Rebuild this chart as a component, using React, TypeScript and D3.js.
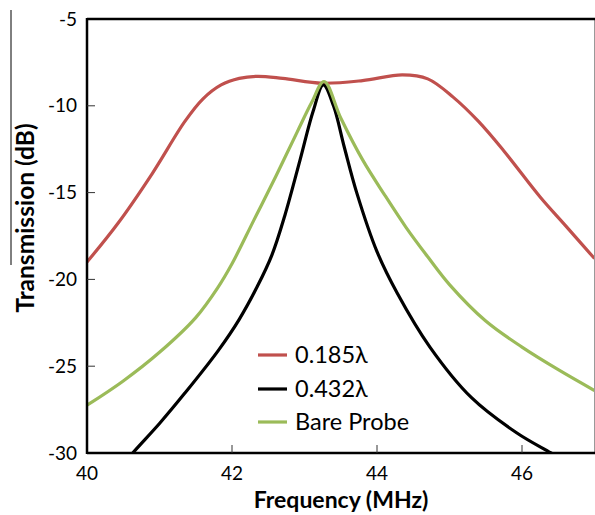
import React from "react";
import * as d3 from "d3";

const redX = [40, 40.43, 40.9, 41.35, 41.6, 41.85, 42.1, 42.35, 42.7, 43.25, 43.8, 44.35, 44.7, 45.05, 45.4, 45.75, 46.25, 46.6, 47];
const redY = [-19.0, -16.75, -13.9, -10.9, -9.6, -8.8, -8.42, -8.3, -8.42, -8.7, -8.55, -8.22, -8.45, -9.5, -10.9, -12.6, -15.25, -16.9, -18.8];

const blackX = [40.45, 40.63, 41.0, 41.35, 41.81, 42.1, 42.35, 42.55, 42.73, 42.94, 43.12, 43.26, 43.4, 43.55, 43.72, 44.0, 44.28, 44.73, 45.3, 45.93, 46.4, 46.6];
const blackY = [-30.9, -30.0, -28.3, -26.55, -24.1, -22.3, -20.4, -18.6, -16.3, -13.1, -10.3, -8.8, -10.0, -12.4, -15.0, -18.4, -20.8, -23.9, -26.8, -28.85, -30.0, -30.5];

const greenX = [40, 40.5, 41.0, 41.5, 41.8, 42.0, 42.3, 42.6, 42.9, 43.1, 43.27, 43.5, 43.8, 44.1, 44.4, 44.7, 45.0, 45.5, 46.0, 46.5, 47];
const greenY = [-27.25, -25.85, -24.2, -22.2, -20.5, -19.1, -16.6, -14.1, -11.5, -9.8, -8.6, -10.7, -13.1, -15.1, -17.0, -18.7, -20.3, -22.4, -23.9, -25.2, -26.4];

const xTicks = [40, 42, 44, 46];
const yTicks = [-5, -10, -15, -20, -25, -30];

const seriesNames = ["0.185\u03bb", "0.432\u03bb", "Bare Probe"];
const seriesColors = ["#c0504d", "#000000", "#9bbb59"];

export default function App() {
  const left = 87, right = 594.5, top = 19, bottom = 453;
  const x = d3.scaleLinear().domain([40, 47]).range([left, right]);
  const y = d3.scaleLinear().domain([-30, -5]).range([bottom, top]);
  const line = d3
    .line<[number, number]>()
    .x((d) => x(d[0]))
    .y((d) => y(d[1]))
    .curve(d3.curveCatmullRom.alpha(0.5));
  const series = [
    redX.map((v, i) => [v, redY[i]] as [number, number]),
    blackX.map((v, i) => [v, blackY[i]] as [number, number]),
    greenX.map((v, i) => [v, greenY[i]] as [number, number]),
  ];
  const font = "Lato, 'Open Sans', sans-serif";
  const legendX = 258;
  const legendY = [355, 389, 422];

  return (
    <svg
      width={595}
      height={515}
      style={{ position: "absolute", left: 0, top: 0, background: "#fff" }}
      fontFamily={font}
    >
      <defs>
        <clipPath id="plotClip">
          <rect x={left} y={top} width={right - left} height={bottom - top} />
        </clipPath>
      </defs>
      <rect x={0} y={0} width={595} height={515} fill="#fff" />
      <line x1={11} x2={11} y1={10} y2={265} stroke="#000" strokeWidth={1} />

      <g clipPath="url(#plotClip)">
        {series.map((s, i) => (
          <path key={i} d={line(s) || ""} fill="none" stroke={seriesColors[i]} strokeWidth={3.2} />
        ))}
      </g>

      <line x1={right} x2={right} y1={top} y2={bottom} stroke="#999" strokeWidth={1} />
      <line x1={left} x2={595} y1={top} y2={top} stroke="#000" strokeWidth={2.5} />
      <line x1={left} x2={595} y1={bottom} y2={bottom} stroke="#000" strokeWidth={2.5} />
      <line x1={left} x2={left} y1={top - 1} y2={bottom + 1} stroke="#000" strokeWidth={2.5} />

      {yTicks.map((t) => (
        <g key={t}>
          {t !== -5 && t !== -30 && (
            <line x1={left} x2={left + 8} y1={y(t)} y2={y(t)} stroke="#333" strokeWidth={1} />
          )}
          <text x={77} y={y(t)} dy="0.35em" textAnchor="end" fontSize={19} fill="#000">
            {t}
          </text>
        </g>
      ))}

      {xTicks.map((t) => (
        <g key={t}>
          {t !== 40 && (
            <line x1={x(t)} x2={x(t)} y1={bottom} y2={bottom - 8} stroke="#333" strokeWidth={1} />
          )}
          <text x={x(t)} y={473} dy="0.35em" textAnchor="middle" fontSize={19} fill="#000">
            {t}
          </text>
        </g>
      ))}

      <text x={341} y={508} textAnchor="middle" fontSize={23} fontWeight="bold" fill="#000">
        Frequency (MHz)
      </text>
      <text
        transform={`translate(25,218) rotate(-90)`}
        dy="0.35em"
        textAnchor="middle"
        fontSize={24.5}
        fontWeight="bold"
        fill="#000"
      >
        Transmission (dB)
      </text>

      {seriesNames.map((n, i) => (
        <g key={n}>
          <line x1={legendX} x2={legendX + 29} y1={legendY[i]} y2={legendY[i]} stroke={seriesColors[i]} strokeWidth={3.2} />
          <text x={legendX + 37} y={legendY[i]} dy="0.35em" fontSize={23.5} fill="#000">
            {n}
          </text>
        </g>
      ))}
    </svg>
  );
}
